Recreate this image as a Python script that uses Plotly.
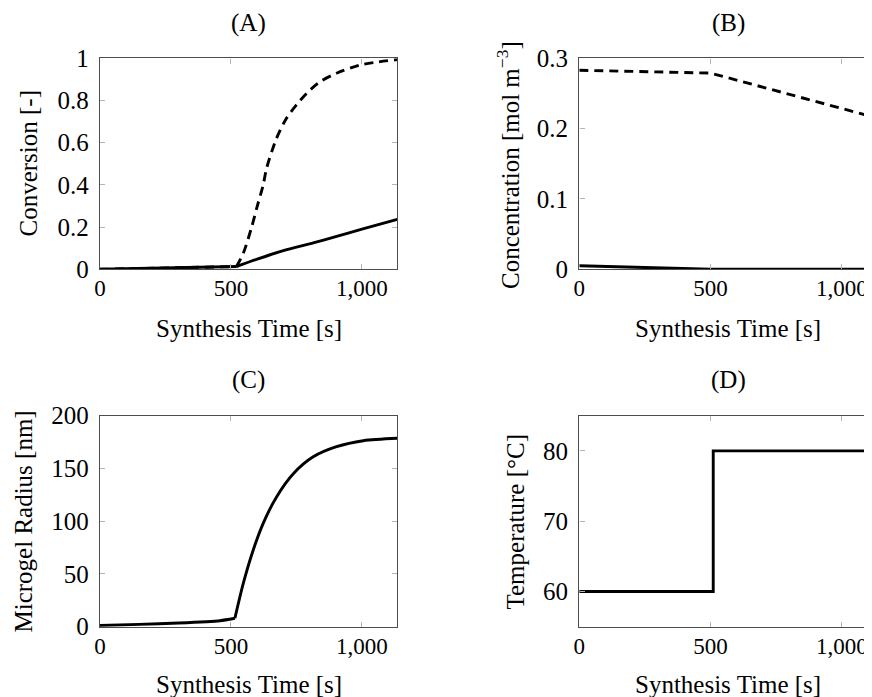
import plotly.graph_objects as go

W, H = 872, 697
OFF = 8  # page body offset of the plot div (screen px = figure px + OFF)

# ---------------- data ----------------
x_ticks = [0, 500, 1000]

# (A) Conversion
conv_dash_pre_t = [0, 200, 400, 521]
conv_dash_pre_v = [0, 0.004, 0.009, 0.013]
conv_dash_post_t = [521, 547, 579, 598, 623, 636, 674, 712, 750, 789, 840, 903, 992, 1135]
conv_dash_post_v = [0.013, 0.076, 0.2, 0.289, 0.4, 0.479, 0.621, 0.716, 0.779, 0.834, 0.889, 0.929, 0.968, 0.994]
conv_solid_pre_t = [0, 200, 400, 521]
conv_solid_pre_v = [0, 0.004, 0.009, 0.013]
conv_solid_post_t = [521, 600, 700, 814, 900, 1000, 1135]
conv_solid_post_v = [0.013, 0.048, 0.088, 0.125, 0.155, 0.19, 0.237]
conv_yticks = [0, 0.2, 0.4, 0.6, 0.8, 1]

# (B) Concentration
conc_dash_t = [0, 500, 1145]
conc_dash_v = [0.283, 0.279, 0.214]
conc_solid_t = [0, 250, 500, 1145]
conc_solid_v = [0.005, 0.002, 0.0, 0.0]
conc_yticks = [0, 0.1, 0.2, 0.3]

# (C) Microgel radius
rad_pre_t = [0, 150, 300, 458, 515]
rad_pre_v = [1.2, 2.2, 3.5, 5.7, 8]
rad_post_t = [515, 547, 585, 623, 674, 738, 814, 903, 1005, 1135]
rad_post_v = [8, 41, 72.7, 98, 123, 145, 161, 170.6, 176.3, 178.6]
rad_yticks = [0, 50, 100, 150, 200]

# (D) Temperature
temp_t = [0, 510, 1145]
temp_v = [60, 80, 80]
temp_yticks = [60, 70, 80]

# ---------------- layout helpers ----------------
def px_x(p):
    return (p - OFF) / W

def px_y(p):
    return 1 - (p - OFF) / H

FONT = "Liberation Serif"
FS = 25
BLACK = "#000000"
FRAME = "#4d4d4d"
TICKC = "#b5b5b5"

fig = go.Figure()

line_solid = dict(color=BLACK, width=2.9)
line_dash = dict(color=BLACK, width=2.9, dash="9px,6px")

def add(t, v, line, xa, ya, shape="linear", smoothing=None):
    ln = dict(line)
    if smoothing is not None:
        ln["smoothing"] = smoothing
    fig.add_trace(go.Scatter(x=t, y=v, mode="lines", line_shape=shape, line=ln,
                             xaxis=xa, yaxis=ya, hoverinfo="skip"))

add(conv_dash_pre_t, conv_dash_pre_v, line_dash, "x", "y")
add(conv_dash_post_t, conv_dash_post_v, line_dash, "x", "y", "spline", 0.8)
add(conv_solid_pre_t, conv_solid_pre_v, line_solid, "x", "y")
add(conv_solid_post_t, conv_solid_post_v, line_solid, "x", "y", "spline", 0.6)
add(conc_dash_t, conc_dash_v, line_dash, "x2", "y2")
add(conc_solid_t, conc_solid_v, line_solid, "x2", "y2")
add(rad_pre_t, rad_pre_v, line_solid, "x3", "y3", "spline", 0.6)
add(rad_post_t, rad_post_v, line_solid, "x3", "y3", "spline", 0.8)
add(temp_t, temp_v, line_solid, "x4", "y4", "hv")

left_dom = [px_x(100), px_x(397.3)]
right_dom = [px_x(579.3), 1.0]
top_dom = [px_y(269.3), px_y(58.3)]
bot_dom = [px_y(626.7), px_y(415.7)]
right_max = (W + OFF - 579.3) / 131.3 * 500

common_axis = dict(
    showgrid=False, zeroline=False, showline=True, linecolor=FRAME, linewidth=1.4,
    ticks="inside", ticklen=5, tickwidth=1, tickcolor=TICKC, automargin=False,
)

def xaxis(dom, rng, anchor):
    d = dict(common_axis)
    d.update(domain=dom, range=rng, anchor=anchor, tickvals=x_ticks, tickformat=",d",
             mirror="allticks", ticklabelstandoff=-2,
             tickfont=dict(family=FONT, size=23, color=BLACK))
    return d

def yaxis(dom, rng, anchor, ticks):
    d = dict(common_axis)
    d.update(domain=dom, range=rng, anchor=anchor, tickvals=ticks, mirror="allticks",
             ticklabelstandoff=5, tickfont=dict(family=FONT, size=FS, color=BLACK))
    return d

fig.update_layout(
    width=W, height=H,
    margin=dict(l=0, r=0, t=0, b=0, pad=0, autoexpand=False),
    paper_bgcolor="white", plot_bgcolor="white",
    showlegend=False,
    font=dict(family=FONT, size=FS, color=BLACK),
    xaxis=xaxis(left_dom, [0, 1135], "y"),
    yaxis=yaxis(top_dom, [0, 1], "x", conv_yticks),
    xaxis2=xaxis(right_dom, [0, right_max], "y2"),
    yaxis2=yaxis(top_dom, [0, 0.3], "x2", conc_yticks),
    xaxis3=xaxis(left_dom, [0, 1135], "y3"),
    yaxis3=yaxis(bot_dom, [0, 200], "x3", rad_yticks),
    xaxis4=xaxis(right_dom, [0, right_max], "y4"),
    yaxis4=yaxis(bot_dom, [55, 85], "x4", temp_yticks),
)

def ann(text, x, y, angle=0):
    fig.add_annotation(text=text, x=px_x(x), y=px_y(y), xref="paper", yref="paper",
                       showarrow=False, textangle=angle, xanchor="center", yanchor="middle",
                       font=dict(family=FONT, size=FS, color=BLACK))

# panel titles
ann("(A)", 248.6, 23)
ann("(B)", 728.3, 23)
ann("(C)", 248.6, 380)
ann("(D)", 728.3, 380)
# x titles
ann("Synthesis Time [s]", 248.6, 328)
ann("Synthesis Time [s]", 728.3, 328)
ann("Synthesis Time [s]", 248.6, 684)
ann("Synthesis Time [s]", 728.3, 684)
# y titles
ann("Conversion [-]", 28, 163.5, -90)
ann("Concentration [mol m<sup>−3</sup>]", 508, 165, -90)
ann("Microgel Radius [nm]", 23, 521.5, -90)
ann("Temperature [°C]", 515, 521.5, -90)

fig.write_html("out.html")
